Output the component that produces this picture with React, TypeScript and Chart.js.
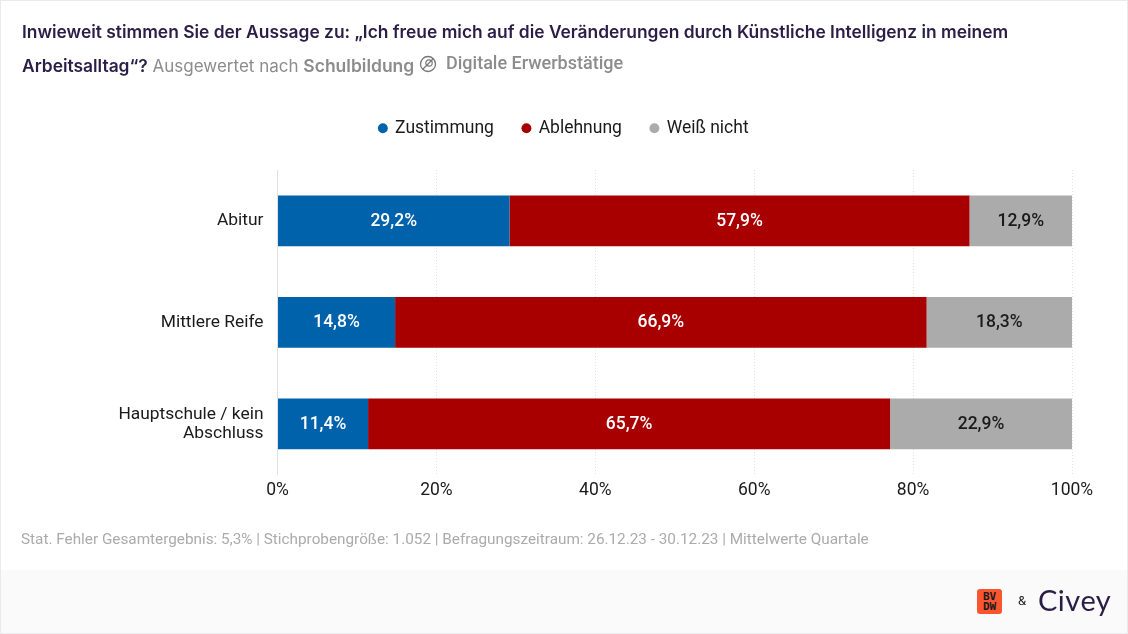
import React, { useEffect, useRef } from "react";
import { Chart, registerables } from "chart.js";

Chart.register(...registerables);

const categories = ["Abitur", "Mittlere Reife", ["Hauptschule / kein", "Abschluss"]];
const zustimmung = [29.2, 14.8, 11.4];
const ablehnung = [57.9, 66.9, 65.7];
const weissNicht = [12.9, 18.3, 22.9];
const xTicks = [0, 20, 40, 60, 80, 100];

const FONT = "Roboto, sans-serif";
const TITLE_FONT = "Inter, sans-serif";
const fmt = (v: number) => v.toFixed(1).replace(".", ",") + "%";

const barLabels = {
  id: "barLabels",
  afterDatasetsDraw(chart: any) {
    const { ctx } = chart;
    chart.data.datasets.forEach((ds: any, i: number) => {
      chart.getDatasetMeta(i).data.forEach((bar: any, j: number) => {
        const p = bar.getProps(["x", "base", "y"], true);
        ctx.save();
        ctx.font = `500 17.5px ${FONT}`;
        ctx.fillStyle = ds.labelColor;
        ctx.textAlign = "center";
        ctx.textBaseline = "middle";
        ctx.fillText(fmt(ds.data[j]), (p.x + p.base) / 2, p.y + 0.5);
        ctx.restore();
      });
    });
  },
};

const legendNudge = {
  id: "legendNudge",
  afterLayout(chart: any) {
    const lg = chart.legend;
    lg.left += 28;
    lg.right += 28;
    lg.top -= 23;
    lg.bottom -= 23;
  },
};

const abs = (left: number, top: number, extra: React.CSSProperties = {}): React.CSSProperties => ({
  position: "absolute",
  left,
  top,
  whiteSpace: "nowrap",
  ...extra,
});

export default function App() {
  const ref = useRef<HTMLCanvasElement>(null);
  useEffect(() => {
    document.body.style.margin = "0";
    const chart = new Chart(ref.current!, {
      type: "bar",
      data: {
        labels: categories as any,
        datasets: [
          { label: "Zustimmung", data: zustimmung, backgroundColor: "#0062AB", labelColor: "#ffffff" },
          { label: "Ablehnung", data: ablehnung, backgroundColor: "#A80000", labelColor: "#ffffff" },
          { label: "Weiß nicht", data: weissNicht, backgroundColor: "#ABABAB", labelColor: "#1a1a1a" },
        ] as any,
      },
      options: {
        indexAxis: "y",
        animation: false,
        responsive: false,
        devicePixelRatio: 1,
        datasets: { bar: { categoryPercentage: 1, barPercentage: 0.5 } },
        layout: { padding: { top: 113.5, right: 56, bottom: 126.5, left: 0 } },
        plugins: {
          tooltip: { enabled: false },
          title: { display: false },
          legend: {
            position: "top",
            labels: {
              usePointStyle: true,
              pointStyle: "circle",
              boxWidth: 7,
              boxHeight: 7,
              color: "#1a1a1a",
              font: { family: FONT, size: 17.5 },
              padding: 29,
            },
          },
        },
        scales: {
          x: {
            stacked: true,
            min: 0,
            max: 100,
            afterBuildTicks: (axis: any) => {
              axis.ticks = xTicks.map((value) => ({ value }));
            },
            ticks: {
              color: "#1a1a1a",
              font: { family: FONT, size: 17.5 },
              callback: (v: any) => v + "%",
              padding: 6,
              maxRotation: 0,
            },
            grid: {
              color: "#e0e0e0",
              tickLength: 0,
              drawTicks: false,
            } as any,
            border: { display: false, dash: [1, 2] },
          },
          y: {
            stacked: true,
            afterFit: (axis: any) => {
              axis.width = 277.5;
            },
            ticks: {
              color: "#1a1a1a",
              font: { family: FONT, size: 17.4, lineHeight: 1.1 },
              padding: 14,
            },
            grid: { display: false, drawTicks: false },
            border: { display: true, color: "#e0e0e0", width: 1 },
          },
        },
      } as any,
      plugins: [barLabels, legendNudge],
    });
    return () => chart.destroy();
  }, []);

  return (
    <div style={{ position: "relative", width: 1128, height: 634, overflow: "hidden", background: "#fff" }}>
      <div style={abs(0, 570, { width: 1128, height: 64, background: "#fafafa" })} />
      <canvas ref={ref} width={1128} height={634} style={abs(0, 0, { display: "block" })} />
      <div style={abs(0, 0, { width: 1128, height: 634, boxSizing: "border-box", border: "1px solid #e9e9ee", pointerEvents: "none" })} />
      <div style={abs(22, 21, { fontFamily: TITLE_FONT, fontWeight: 600, fontSize: 17.4, color: "#2a1d46" })}>
        Inwieweit stimmen Sie der Aussage zu: „Ich freue mich auf die Veränderungen durch Künstliche Intelligenz in meinem
      </div>
      <div style={abs(22, 55, { fontFamily: TITLE_FONT, fontSize: 17, color: "#8c8c8c" })}>
        <span style={{ fontWeight: 600, color: "#2a1d46", fontSize: 17.4 }}>Arbeitsalltag“?</span> Ausgewertet nach{" "}
        <span style={{ fontWeight: 600, fontSize: 17.5 }}>Schulbildung</span>
      </div>
      <svg width="18" height="18" viewBox="0 0 18 18" style={abs(419, 55)}>
        <circle cx="9" cy="9" r="7.5" fill="none" stroke="#777" strokeWidth="1.3" />
        <circle cx="10" cy="8" r="3.2" fill="none" stroke="#777" strokeWidth="1.2" />
        <line x1="4" y1="14" x2="14" y2="4" stroke="#777" strokeWidth="1.3" />
      </svg>
      <div style={abs(446, 52, { fontFamily: FONT, fontWeight: 500, fontSize: 18, color: "#8c8c8c" })}>
        Digitale Erwerbstätige
      </div>
      <div style={abs(21, 530, { fontFamily: FONT, fontSize: 15.3, color: "#ababab" })}>
        Stat. Fehler Gesamtergebnis: 5,3% | Stichprobengröße: 1.052 | Befragungszeitraum: 26.12.23 - 30.12.23 | Mittelwerte Quartale
      </div>
      <div
        style={abs(977, 589, {
          width: 25,
          height: 25,
          background: "#F9552F",
          borderRadius: 3,
          color: "#1a1a1a",
          fontFamily: "DejaVu Sans Mono, monospace",
          fontWeight: 700,
          fontSize: 11,
          lineHeight: "10px",
          textAlign: "center",
          paddingTop: 3,
          boxSizing: "border-box",
        })}
      >
        BV
        <br />
        DW
      </div>
      <div style={abs(1018, 593, { fontFamily: FONT, fontSize: 13, color: "#1a1a1a" })}>&amp;</div>
      <div style={abs(1038, 582, { fontFamily: "Lato, sans-serif", fontSize: 29, color: "#2a1d46", letterSpacing: 0.5 })}>
        Civey
      </div>
    </div>
  );
}
